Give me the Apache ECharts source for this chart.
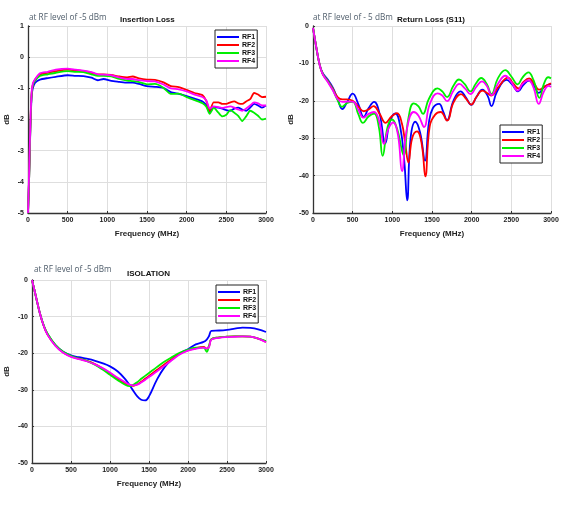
<!DOCTYPE html>
<html>
<head>
<meta charset="utf-8">
<script src="https://cdn.jsdelivr.net/npm/echarts@6/dist/echarts.min.js"></script>
<style>
  html, body { margin: 0; padding: 0; background: #fff; }
  #chart { width: 575px; height: 518px; }
</style>
</head>
<body>
<div id="chart"></div>
<script>
// insertion loss, shared frequency grid (MHz)
const ilFreq = [0, 15, 30, 45, 60, 90, 150, 250, 350, 500, 600, 700, 800, 880, 950, 1050, 1150, 1250, 1320, 1400, 1500, 1600, 1700, 1800, 1900, 2000, 2100, 2200, 2250, 2290, 2340, 2400, 2450, 2500, 2550, 2600, 2650, 2700, 2750, 2800, 2850, 2900, 2950, 3000]
const ilRF1 = [-5, -3.8, -2.3, -1.3, -1.0, -0.82, -0.72, -0.67, -0.63, -0.58, -0.6, -0.61, -0.66, -0.74, -0.7, -0.76, -0.79, -0.82, -0.82, -0.86, -0.93, -0.95, -0.98, -1.12, -1.18, -1.25, -1.33, -1.42, -1.55, -1.78, -1.6, -1.62, -1.65, -1.7, -1.72, -1.65, -1.62, -1.68, -1.72, -1.62, -1.5, -1.55, -1.62, -1.55]
const ilRF2 = [-5, -3.8, -2.2, -1.2, -0.9, -0.72, -0.55, -0.5, -0.45, -0.4, -0.42, -0.45, -0.5, -0.55, -0.55, -0.57, -0.62, -0.65, -0.62, -0.68, -0.72, -0.73, -0.8, -0.93, -0.96, -1.05, -1.15, -1.22, -1.42, -1.72, -1.45, -1.45, -1.5, -1.5, -1.45, -1.42, -1.48, -1.5, -1.42, -1.35, -1.15, -1.2, -1.28, -1.27]
const ilRF3 = [-5, -3.8, -2.2, -1.2, -0.9, -0.75, -0.6, -0.55, -0.5, -0.45, -0.47, -0.48, -0.55, -0.6, -0.6, -0.62, -0.7, -0.75, -0.77, -0.8, -0.87, -0.86, -0.97, -1.18, -1.17, -1.28, -1.38, -1.48, -1.6, -1.82, -1.62, -1.78, -1.9, -1.85, -1.7, -1.78, -1.88, -2.05, -1.9, -1.72, -1.78, -1.88, -2.0, -1.97]
const ilRF4 = [-5, -3.6, -2.1, -1.15, -0.85, -0.7, -0.52, -0.47, -0.4, -0.37, -0.4, -0.43, -0.48, -0.55, -0.56, -0.58, -0.65, -0.7, -0.7, -0.74, -0.77, -0.78, -0.87, -1.0, -1.03, -1.1, -1.2, -1.28, -1.4, -1.65, -1.58, -1.6, -1.63, -1.6, -1.58, -1.62, -1.68, -1.72, -1.65, -1.55, -1.45, -1.48, -1.55, -1.55]

// return loss (S11), [MHz, dB] per port
const rlRF1 = [[0, -0.5], [40, -5.5], [80, -10], [120, -12.5], [180, -14.2], [250, -16.5], [310, -19.5], [370, -22.2], [430, -20.3], [500, -18.1], [570, -20.8], [640, -24.3], [700, -22], [770, -20.3], [840, -23.5], [910, -31.4], [970, -25.5], [1040, -23.4], [1100, -27], [1150, -36], [1187, -46.6], [1230, -30], [1290, -25.6], [1350, -28.5], [1412, -36], [1460, -26], [1510, -22], [1590, -20.8], [1640, -22.8], [1690, -25.2], [1770, -20], [1860, -17.5], [1930, -19.2], [1995, -21.1], [2060, -19], [2135, -17], [2200, -18.6], [2250, -21.4], [2320, -17.5], [2440, -14.4], [2510, -15.6], [2585, -17.5], [2650, -15.8], [2725, -14.6], [2790, -16.2], [2845, -17.9], [2920, -16.2], [3000, -15.5]]
const rlRF2 = [[0, -0.5], [40, -5.5], [80, -10], [120, -12.7], [180, -14.5], [250, -16.8], [310, -19], [370, -19.6], [430, -19.6], [500, -20], [570, -21.5], [638, -22.8], [700, -22.3], [764, -21.4], [840, -23.5], [915, -25.9], [990, -24.2], [1059, -23.3], [1120, -26], [1160, -31], [1203, -36.5], [1250, -30], [1311, -28.2], [1370, -31.5], [1416, -40.2], [1470, -27], [1540, -23.7], [1610, -23], [1690, -25.3], [1770, -20.5], [1866, -18.2], [1930, -19.5], [1995, -21], [2060, -19], [2135, -17.3], [2200, -18], [2250, -18.6], [2330, -16.5], [2460, -13.8], [2520, -15.3], [2590, -16.7], [2650, -15], [2725, -14], [2790, -15.5], [2850, -17], [2920, -16.2], [3000, -15.3]]
const rlRF3 = [[0, -0.5], [40, -5.5], [80, -10], [120, -12.7], [180, -14.6], [250, -17], [310, -19.8], [365, -21.6], [430, -20.6], [500, -20.3], [570, -23.5], [630, -25.9], [700, -24.2], [770, -23.4], [830, -27], [878, -34.7], [940, -27], [996, -25], [1060, -27.5], [1143, -34.5], [1200, -25], [1269, -20.7], [1330, -21.5], [1387, -23.5], [1460, -19.5], [1570, -16.7], [1630, -17.5], [1690, -19], [1770, -16], [1840, -14.3], [1910, -15.5], [1985, -17.5], [2050, -15.5], [2120, -13.9], [2190, -15.5], [2250, -18.2], [2330, -14], [2425, -11.8], [2500, -13.5], [2580, -15.6], [2640, -13.8], [2715, -12.4], [2780, -14.5], [2855, -19.2], [2910, -15.5], [2965, -13.7], [3000, -14]]
const rlRF4 = [[0, -0.5], [40, -5.5], [80, -10], [120, -12.8], [180, -14.8], [250, -17.2], [310, -19.5], [370, -20.3], [430, -20.2], [500, -20.2], [570, -22.3], [635, -24.5], [700, -23.5], [770, -23], [835, -25.5], [893, -31.5], [950, -27.5], [1010, -25.8], [1070, -29], [1122, -38.8], [1180, -28], [1269, -23], [1330, -24], [1400, -27], [1470, -21], [1570, -18], [1630, -18.6], [1690, -20.1], [1770, -17.3], [1845, -15.5], [1920, -16.8], [1985, -18.2], [2060, -16.2], [2130, -14.8], [2190, -16], [2250, -18.5], [2330, -15.5], [2425, -13.3], [2500, -15], [2580, -17.3], [2640, -15.5], [2715, -14.5], [2780, -16.5], [2845, -20.8], [2910, -17.5], [2970, -16], [3000, -16.3]]

// isolation, shared frequency grid (MHz)
const isoFreq = [0, 25, 50, 100, 150, 200, 300, 400, 500, 600, 700, 800, 900, 1000, 1100, 1200, 1250, 1300, 1350, 1400, 1450, 1500, 1600, 1700, 1800, 1900, 2000, 2100, 2200, 2240, 2270, 2300, 2400, 2500, 2600, 2700, 2800, 2900, 3000]
const isoRF1 = [0, -2.2, -4.5, -9, -12.5, -14.8, -17.8, -19.6, -20.6, -21.1, -21.5, -22.0, -22.7, -23.6, -25.0, -27.2, -28.7, -30.3, -31.8, -32.7, -32.9, -31.8, -27.3, -23.8, -21.6, -20.0, -18.9, -17.6, -16.9, -16.3, -15.3, -13.9, -13.8, -13.6, -13.3, -13.0, -13.1, -13.5, -14.2]
const isoRF2 = [0, -2.2, -4.5, -9, -12.5, -14.9, -17.9, -19.8, -20.9, -21.5, -22.1, -22.9, -24.1, -25.5, -27.0, -28.3, -28.8, -28.9, -28.5, -27.8, -27.0, -26.2, -24.6, -23.0, -21.5, -20.1, -19.2, -18.6, -18.3, -18.8, -18.0, -16.2, -15.7, -15.5, -15.4, -15.4, -15.5, -16.0, -16.9]
const isoRF3 = [0, -2.2, -4.5, -9, -12.3, -14.7, -17.7, -19.6, -20.7, -21.5, -22.1, -23.1, -24.4, -25.9, -27.4, -28.7, -29.0, -28.6, -27.9, -27.0, -26.2, -25.4, -23.8, -22.3, -21.0, -19.8, -19.0, -18.5, -18.5, -19.6, -18.0, -16.2, -15.7, -15.5, -15.4, -15.4, -15.5, -16.0, -16.7]
const isoRF4 = [0, -2.2, -4.5, -9, -12.5, -15.0, -18.0, -19.9, -21.0, -21.6, -22.2, -23.0, -24.0, -25.3, -26.7, -28.0, -28.6, -28.8, -28.6, -28.0, -27.3, -26.5, -25.0, -23.4, -21.8, -20.3, -19.3, -18.8, -18.5, -18.7, -18.3, -16.3, -15.8, -15.6, -15.5, -15.4, -15.5, -16.0, -17.0]

const portNames = ['RF1', 'RF2', 'RF3', 'RF4']
const portColors = ['#0000ff', '#ff0000', '#00ee00', '#ff00ff']

let myChart = echarts.init(document.getElementById('chart'), null, {
    renderer: 'canvas'
})

const zip = (xs, ys) => xs.map((x, i) => [x, ys[i]])
const font = '"Liberation Sans", Arial, sans-serif'
const subColor = '#4f5d6b'

function eixoX(idx) {
    return {
        gridIndex: idx,
        type: 'value',
        min: 0,
        max: 3000,
        interval: 500,
        name: 'Frequency (MHz)',
        nameLocation: 'middle',
        nameGap: 17,
        nameTextStyle: { fontFamily: font, fontWeight: 'bold', fontSize: 8, color: '#222' },
        axisLine: { onZero: false, lineStyle: { color: '#333', width: 1.3 } },
        axisTick: { inside: true, length: 2, lineStyle: { color: '#333' } },
        axisLabel: { fontFamily: font, fontWeight: 'bold', fontSize: 7, color: '#222', margin: 4, formatter: v => String(v) },
        splitLine: { show: true, lineStyle: { color: '#dedede', width: 1 } }
    }
}

function eixoY(idx, min, max, interval, gap) {
    return {
        gridIndex: idx,
        type: 'value',
        min: min,
        max: max,
        interval: interval,
        name: 'dB',
        nameLocation: 'middle',
        nameGap: gap,
        nameRotate: 90,
        nameTextStyle: { fontFamily: font, fontWeight: 'bold', fontSize: 8, color: '#222' },
        axisLine: { show: true, onZero: false, lineStyle: { color: '#333', width: 1.3 } },
        axisTick: { show: true, inside: true, length: 2, lineStyle: { color: '#333' } },
        axisLabel: { fontFamily: font, fontWeight: 'bold', fontSize: 7, color: '#222', margin: 4 },
        splitLine: { show: true, lineStyle: { color: '#dedede', width: 1 } }
    }
}

function legenda(left, top) {
    return {
        data: portNames,
        orient: 'vertical',
        left: left,
        top: top,
        icon: 'rect',
        itemWidth: 22,
        itemHeight: 2,
        itemGap: 0,
        padding: [3, 2, 3, 2],
        borderColor: '#222',
        borderWidth: 1,
        borderRadius: 0,
        backgroundColor: '#fff',
        selectedMode: false,
        textStyle: { fontFamily: font, fontWeight: 'bold', fontSize: 7, lineHeight: 8, color: '#111', padding: [0, 0, 0, -2] }
    }
}

function titulo(text, left, top, bold) {
    return {
        text: text,
        left: left,
        top: top,
        padding: 0,
        textStyle: bold
            ? { fontFamily: font, fontWeight: 'bold', fontSize: 8, color: '#111' }
            : { fontFamily: '"Open Sans", sans-serif', fontWeight: 'normal', fontSize: 8.2, color: subColor }
    }
}

function serie(idx, data, i, smooth) {
    return {
        name: portNames[i],
        type: 'line',
        xAxisIndex: idx,
        yAxisIndex: idx,
        data: data,
        smooth: smooth,
        showSymbol: false,
        clip: true,
        lineStyle: { color: portColors[i], width: 1.8 },
        itemStyle: { color: portColors[i] },
        z: 2 + i
    }
}

const ilSeries = [ilRF1, ilRF2, ilRF3, ilRF4].map((v, i) => serie(0, zip(ilFreq, v), i, 0.2))
const rlSeries = [rlRF1, rlRF2, rlRF3, rlRF4].map((v, i) => serie(1, v, i, 0.45))
const isoSeries = [isoRF1, isoRF2, isoRF3, isoRF4].map((v, i) => serie(2, zip(isoFreq, v), i, 0.4))

myChart.setOption({
    animation: false,
    backgroundColor: '#fff',
    title: [
        titulo('at RF level of -5 dBm', 29, 14, false),
        titulo('Insertion Loss', 120, 16, true),
        titulo('at RF level of - 5 dBm', 313, 14, false),
        titulo('Return Loss (S11)', 397, 16, true),
        titulo('at RF level of -5 dBm', 34, 266, false),
        titulo('ISOLATION', 127, 270, true)
    ],
    legend: [
        legenda(215, 30),
        legenda(500, 125),
        legenda(216, 285)
    ],
    grid: [
        { left: 28, top: 26, width: 238, height: 187 },
        { left: 313, top: 26, width: 238, height: 187 },
        { left: 32, top: 280, width: 234, height: 183 }
    ],
    xAxis: [eixoX(0), eixoX(1), eixoX(2)],
    yAxis: [
        eixoY(0, -5, 1, 1, 17),
        eixoY(1, -50, 0, 10, 18),
        eixoY(2, -50, 0, 10, 21)
    ],
    series: [].concat(ilSeries, rlSeries, isoSeries)
})

window.addEventListener('resize', () => {
    myChart.resize()
})
</script>
</body>
</html>
